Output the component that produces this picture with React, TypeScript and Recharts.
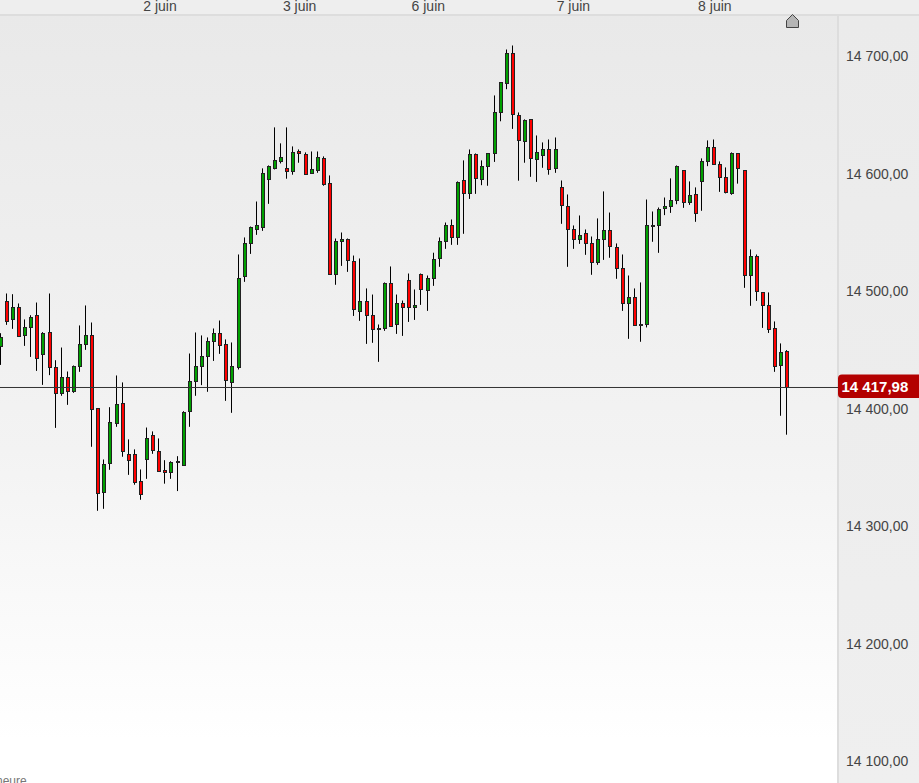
import React from "react";
import { Bar, ComposedChart, ReferenceLine, XAxis, YAxis } from "recharts";

const opens = [
  14452.9, 14491.7, 14475.9, 14486.9, 14462.3, 14469.1, 14479.3, 14446.1, 14464.8, 14435.0,
  14413.7, 14426.5, 14414.6, 14435.9, 14454.6, 14462.3, 14400.1, 14328.7, 14353.3, 14387.4,
  14404.4, 14361.0, 14361.0, 14338.0, 14357.5, 14377.2, 14363.6, 14347.5, 14345.8, 14354.4,
  14351.6, 14397.6, 14423.1, 14435.9, 14444.4, 14457.2, 14464.0, 14454.6, 14422.3, 14435.0,
  14512.5, 14541.4, 14553.3, 14555.0, 14595.1, 14604.5, 14610.4, 14604.5, 14601.9, 14618.9,
  14616.4, 14600.2, 14602.8, 14613.0, 14591.7, 14514.2, 14543.1, 14544.0, 14525.3, 14483.5,
  14491.2, 14480.1, 14467.4, 14468.2, 14506.5, 14471.6, 14490.3, 14509.9, 14486.9, 14515.0,
  14500.6, 14511.6, 14527.8, 14542.3, 14556.7, 14546.5, 14594.2, 14583.2, 14616.4, 14595.1,
  14606.2, 14617.2, 14652.9, 14676.8, 14702.3, 14649.6, 14627.5, 14646.2, 14612.1, 14615.5,
  14621.4, 14604.5, 14588.3, 14572.1, 14552.5, 14544.0, 14549.1, 14541.4, 14524.4, 14544.8,
  14551.7, 14537.2, 14519.3, 14489.5, 14495.4, 14470.8, 14471.6, 14555.1, 14555.9, 14570.4,
  14572.1, 14577.2, 14602.8, 14576.3, 14582.3, 14593.4, 14610.4, 14622.3, 14607.8, 14596.8,
  14583.2, 14617.2, 14602.8, 14513.4, 14529.6, 14498.9, 14488.6, 14468.2, 14436.9, 14448.7,
];
const highs = [
  14464.2, 14498.0, 14497.4, 14489.5, 14475.9, 14479.5, 14490.3, 14465.1, 14498.0, 14441.2,
  14452.0, 14431.6, 14436.7, 14470.8, 14487.8, 14473.3, 14400.1, 14356.7, 14401.2, 14428.2,
  14422.3, 14373.8, 14365.3, 14348.2, 14383.9, 14380.6, 14374.6, 14356.1, 14355.2, 14359.5,
  14397.8, 14446.9, 14464.8, 14462.3, 14460.6, 14468.2, 14475.0, 14458.9, 14456.3, 14531.2,
  14545.7, 14555.0, 14576.3, 14604.5, 14607.0, 14639.4, 14625.8, 14639.4, 14623.2, 14620.6,
  14618.1, 14618.9, 14618.9, 14614.7, 14598.5, 14544.8, 14549.9, 14544.8, 14530.3, 14527.8,
  14502.3, 14497.1, 14471.6, 14507.4, 14521.0, 14497.1, 14492.0, 14515.0, 14501.4, 14515.0,
  14513.3, 14532.7, 14545.7, 14558.4, 14561.0, 14593.4, 14611.3, 14620.6, 14617.2, 14611.3,
  14617.2, 14666.6, 14677.7, 14705.7, 14709.1, 14652.1, 14646.2, 14646.2, 14632.5, 14626.6,
  14629.1, 14630.8, 14594.2, 14582.3, 14555.9, 14564.4, 14552.5, 14546.5, 14561.9, 14584.9,
  14566.9, 14540.6, 14531.2, 14513.3, 14502.3, 14507.4, 14578.0, 14567.8, 14571.2, 14579.7,
  14596.0, 14607.0, 14602.8, 14593.4, 14588.3, 14613.0, 14628.3, 14629.1, 14610.4, 14605.3,
  14618.1, 14617.2, 14602.8, 14535.5, 14531.2, 14498.9, 14498.9, 14474.2, 14455.5, 14449.8,
];
const lows = [
  14437.2, 14471.3, 14467.9, 14461.1, 14453.4, 14444.0, 14432.1, 14420.2, 14428.5, 14383.6,
  14410.9, 14403.2, 14413.4, 14431.3, 14450.0, 14367.5, 14313.0, 14314.7, 14347.9, 14384.5,
  14359.0, 14343.6, 14335.2, 14322.4, 14340.2, 14361.5, 14346.6, 14336.1, 14340.2, 14329.8,
  14351.6, 14384.5, 14410.9, 14420.0, 14414.3, 14440.6, 14446.6, 14406.6, 14396.4, 14433.3,
  14507.9, 14531.7, 14547.9, 14551.3, 14574.3, 14603.6, 14608.7, 14595.7, 14599.1, 14609.3,
  14599.4, 14600.2, 14600.7, 14589.7, 14514.2, 14505.4, 14521.5, 14516.4, 14478.9, 14474.7,
  14455.1, 14456.0, 14439.8, 14466.2, 14469.6, 14463.6, 14461.9, 14473.8, 14475.5, 14488.3,
  14483.2, 14504.5, 14520.7, 14536.0, 14539.4, 14539.4, 14548.8, 14578.5, 14582.8, 14590.2,
  14589.7, 14610.0, 14644.6, 14671.9, 14638.1, 14594.0, 14609.3, 14597.3, 14593.0, 14605.0,
  14599.1, 14600.7, 14557.3, 14520.7, 14536.0, 14540.2, 14530.9, 14513.9, 14522.4, 14526.6,
  14528.4, 14510.5, 14483.2, 14459.4, 14470.8, 14456.9, 14469.1, 14542.0, 14532.6, 14564.7,
  14566.6, 14574.0, 14570.9, 14573.4, 14559.0, 14568.4, 14606.4, 14607.8, 14584.5, 14583.2,
  14582.0, 14591.5, 14502.8, 14487.5, 14491.7, 14468.7, 14464.4, 14431.3, 14393.9, 14377.8,
];
const closes = [
  14461.1, 14475.0, 14486.9, 14461.9, 14469.1, 14478.4, 14443.5, 14464.0, 14435.0, 14412.9,
  14426.5, 14414.6, 14435.9, 14454.6, 14462.3, 14399.3, 14327.8, 14352.5, 14388.2, 14403.5,
  14363.6, 14355.9, 14337.2, 14326.9, 14375.4, 14364.4, 14346.6, 14345.8, 14354.4, 14355.2,
  14396.7, 14423.1, 14435.9, 14444.4, 14457.2, 14464.0, 14453.8, 14424.0, 14435.9, 14511.6,
  14540.6, 14554.2, 14555.9, 14600.2, 14606.2, 14611.3, 14613.8, 14601.9, 14618.1, 14617.2,
  14599.4, 14603.6, 14613.8, 14590.9, 14514.2, 14543.1, 14544.0, 14526.1, 14484.4, 14491.2,
  14479.3, 14467.4, 14468.2, 14506.5, 14470.4, 14489.5, 14486.9, 14486.9, 14487.8, 14501.4,
  14510.8, 14527.6, 14542.3, 14555.9, 14546.5, 14592.5, 14583.2, 14616.4, 14596.0, 14606.2,
  14617.2, 14652.9, 14677.7, 14702.3, 14650.4, 14628.3, 14645.3, 14613.0, 14618.1, 14620.6,
  14603.6, 14621.4, 14572.9, 14552.5, 14544.0, 14548.2, 14540.6, 14524.4, 14544.0, 14551.7,
  14538.1, 14519.3, 14489.5, 14494.6, 14470.8, 14471.6, 14555.9, 14555.9, 14569.5, 14572.1,
  14578.0, 14606.2, 14576.3, 14581.5, 14566.1, 14610.4, 14622.3, 14607.8, 14596.8, 14584.0,
  14617.2, 14604.5, 14513.4, 14529.6, 14499.7, 14487.8, 14467.4, 14435.9, 14447.9, 14417.98,
];

const lastPrice = 14417.98;
const priceTicks = [14100, 14200, 14300, 14400, 14500, 14600, 14700];
const dayTicks = [26.2, 49.1, 70.2, 94, 117.2];
const dayLabels = ["2 juin", "3 juin", "6 juin", "7 juin", "8 juin"];

const candles = opens.map((open, i) => ({
  slot: i,
  open,
  high: highs[i],
  low: lows[i],
  close: closes[i],
}));

const formatPrice = (v: number, digits = 2) =>
  v.toFixed(digits).replace(".", ",").replace(/\B(?=(\d{3})(?!\d))/g, " ");

function Candle(props: any) {
  const { x, y, width, height, payload } = props;
  const { open, high, low, close } = payload;
  const toY = (v: number) => y + ((high - v) / (high - low || 1)) * height;
  const mid = Math.round(x + width / 2) - 0.5;
  const top = Math.round(toY(Math.max(open, close))) + 0.5;
  const bottom = Math.round(toY(Math.min(open, close))) + 0.5;
  return (
    <g>
      <line x1={mid} x2={mid} y1={y} y2={y + height} stroke="#000" strokeWidth={1} />
      <rect
        x={mid - 1}
        y={top}
        width={3}
        height={Math.max(bottom - top, 1)}
        fill={close >= open ? "#00a000" : "#ff0000"}
        stroke="#222"
        strokeWidth={1}
      />
    </g>
  );
}

function PriceFlag(props: any) {
  const { viewBox } = props;
  const left = viewBox.x + viewBox.width;
  const mid = viewBox.y;
  return (
    <g>
      <path
        d={`M${left + 4} ${mid - 13}H${left + 81}V${mid + 10.5}H${left + 4}Q${left} ${mid + 10.5} ${left} ${mid + 6.5}V${mid - 9}Q${left} ${mid - 13} ${left + 4} ${mid - 13}Z`}
        fill="#b30000"
      />
      <text x={left + 3.5} y={mid + 5} fill="#fff" fontSize={15} fontWeight="bold" fontFamily="Liberation Sans">
        {formatPrice(lastPrice)}
      </text>
    </g>
  );
}

export default function App() {
  return (
    <div
      style={{
        position: "absolute",
        left: 0,
        top: 0,
        width: 919,
        height: 783,
        overflow: "hidden",
        background: "linear-gradient(#e9e9e9 15px, #f3f3f3 450px, #ffffff 740px)",
      }}
    >
      <div style={{ position: "absolute", left: 0, top: 0, width: 919, height: 14, background: "#eeeeee" }} />
      <div style={{ position: "absolute", left: 0, top: 14, width: 919, height: 2, background: "#dddddd" }} />
      <div
        style={{
          position: "absolute",
          left: 839,
          top: 16,
          width: 80,
          height: 767,
          background: "linear-gradient(#ebebeb, #efefef)",
        }}
      />
      <div style={{ position: "absolute", left: 837, top: 16, width: 2, height: 767, background: "#dddddd" }} />
      <ComposedChart
        width={919}
        height={783}
        data={candles}
        margin={{ top: 0, right: 0, bottom: 0, left: 0 }}
        style={{ position: "absolute", left: 0, top: 0 }}
      >
        <XAxis
          xAxisId="days"
          type="number"
          dataKey="slot"
          orientation="top"
          height={15}
          scale="linear"
          domain={[-0.05, 137.4]}
          ticks={dayTicks}
          tickFormatter={(v: number) => dayLabels[dayTicks.indexOf(v)]}
          tick={{ fontSize: 14, fontFamily: "Liberation Sans", fill: "#444" }}
          tickLine={false}
          axisLine={false}
          tickMargin={-2}
          allowDataOverflow
        />
        <YAxis
          yAxisId="price"
          orientation="right"
          width={81}
          domain={[14081.3, 14735.06]}
          ticks={priceTicks}
          tickFormatter={(v: number) => formatPrice(v)}
          tick={{ fontSize: 14, fontFamily: "Liberation Sans", fill: "#444" }}
          tickLine={false}
          axisLine={false}
          tickMargin={2}
          allowDataOverflow
        />
        <ReferenceLine
          xAxisId="days"
          yAxisId="price"
          y={lastPrice}
          stroke="#333"
          strokeWidth={1}
          label={<PriceFlag />}
        />
        <Bar
          xAxisId="days"
          yAxisId="price"
          dataKey={(d: any) => [d.low, d.high]}
          barSize={5}
          shape={<Candle />}
          isAnimationActive={false}
        />
      </ComposedChart>
      <svg width={919} height={783} style={{ position: "absolute", left: 0, top: 0 }}>
        <path d="M786.5 27.5V20.5L792.5 14.5L798.5 20.5V27.5Z" fill="#b5b5b5" stroke="#444" strokeWidth={1} />
        <text x={-4} y={785} fontSize={12} fill="#777" fontFamily="Liberation Sans">
          heure
        </text>
      </svg>
    </div>
  );
}
